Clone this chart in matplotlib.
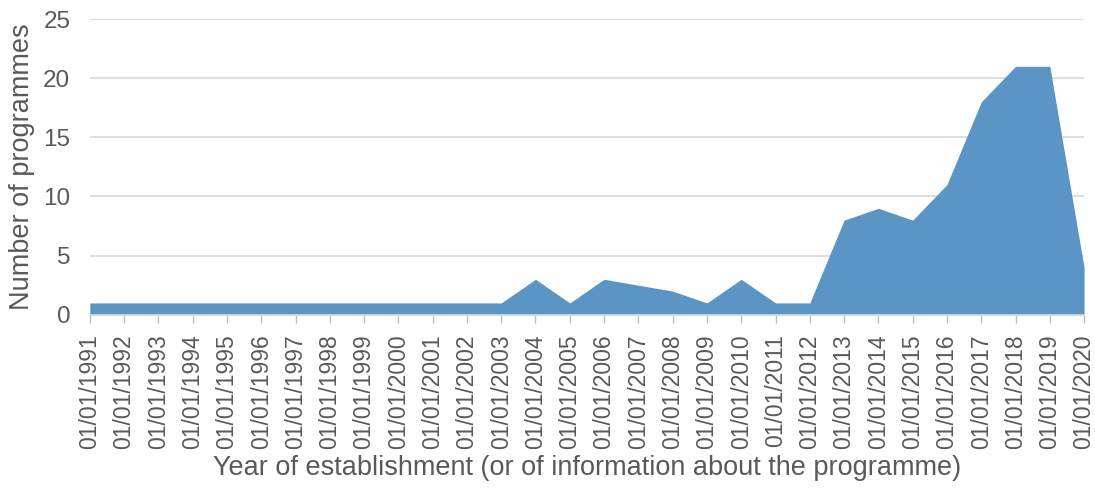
import datetime as dt
import matplotlib
matplotlib.use("Agg")
import matplotlib.pyplot as plt
import matplotlib.dates as mdates

plt.rcParams['font.family'] = ['Liberation Sans', 'DejaVu Sans']

# years with data (no point read for 2007: the line runs straight from 2006 to 2008)
years = [1991, 1992, 1993, 1994, 1995, 1996, 1997, 1998, 1999, 2000,
         2001, 2002, 2003, 2004, 2005, 2006, 2008, 2009, 2010, 2011,
         2012, 2013, 2014, 2015, 2016, 2017, 2018, 2019, 2020]
programmes = [1, 1, 1, 1, 1, 1, 1, 1, 1, 1,
              1, 1, 1, 3, 1, 3, 2, 1, 3, 1,
              1, 8, 9, 8, 11, 18, 21, 21, 4]
tick_years = list(range(1991, 2021))

text_col = '#595959'
fill_col = '#5B95C5'

dates = [dt.date(y, 1, 1) for y in years]
ticks = [dt.date(y, 1, 1) for y in tick_years]

fig = plt.figure(figsize=(10.95, 4.88), dpi=100)
ax = fig.add_axes([0.082, 0.355, 0.908, 0.606])

ax.fill_between(dates, programmes, 0, color=fill_col, linewidth=0, zorder=2)

ax.set_xlim(ticks[0], ticks[-1])
ax.set_ylim(0, 25)
ax.set_yticks(range(0, 26, 5))
ax.set_xticks(ticks)
ax.xaxis.set_major_formatter(mdates.DateFormatter('%d/%m/%Y'))
ax.tick_params(axis='x', rotation=90, labelsize=16.5, colors='#BFBFBF',
               labelcolor=text_col, length=6, width=1, pad=8)
ax.tick_params(axis='y', labelsize=17.5, labelcolor=text_col, length=0, pad=14)

ax.grid(axis='y', color='#D9D9D9', linewidth=1.2, zorder=0)
for s in ['top', 'right', 'left']:
    ax.spines[s].set_visible(False)
ax.spines['bottom'].set_color('#D9D9D9')
ax.spines['bottom'].set_linewidth(1.2)

ax.set_ylabel('Number of programmes', fontsize=19.5, color=text_col, labelpad=6)
ax.set_xlabel('Year of establishment (or of information about the programme)',
              fontsize=19.5, color=text_col, labelpad=4)

fig.savefig('out.png', dpi=100)
